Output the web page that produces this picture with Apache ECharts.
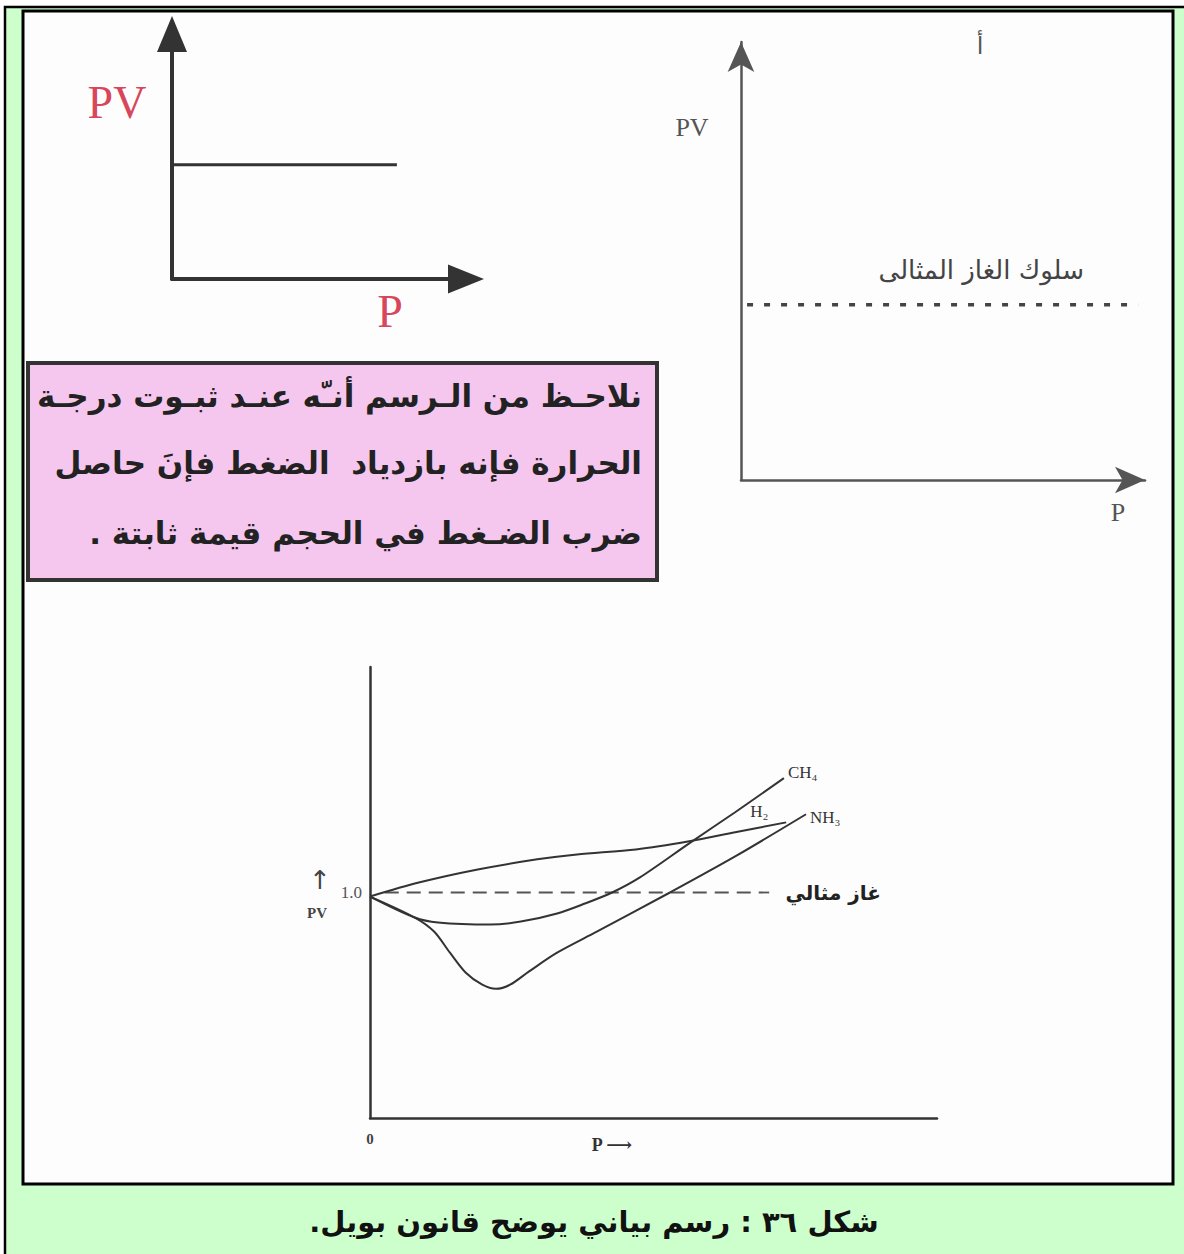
<!DOCTYPE html>
<html lang="ar">
<head>
<meta charset="utf-8">
<title>قانون بويل</title>
<script src="https://cdn.jsdelivr.net/npm/echarts@6/dist/echarts.min.js"></script>
<style>
  html, body { margin: 0; padding: 0; background: #ffffff; }
  #chart { width: 1184px; height: 1254px; }
</style>
</head>
<body>
<div id="chart"></div>
<script>
// Sketch 1: PV stays constant as P grows (arbitrary units)
const sketchP = [0, 7.65];
const sketchPV = [4.66, 4.66];

// Sketch 2: ideal gas behaviour (dotted level)
const idealP = [0.15, 9.83];
const idealPV = [4, 4];

// Real gases: PV against P, with the ideal reference at PV = 1.0
const refP = [26, 704];
const refPV = [1.0, 1.0];

const h2P  = [0, 86, 190, 295, 365, 469, 563, 644, 734];
const h2PV = [0.982, 1.044, 1.102, 1.147, 1.169, 1.191, 1.227, 1.267, 1.311];

const ch4P  = [0, 79, 120, 212, 266, 330, 379, 427, 476, 563, 644, 730];
const ch4PV = [0.982, 0.889, 0.867, 0.858, 0.871, 0.907, 0.951, 1.0, 1.067, 1.218, 1.356, 1.507];

const nh3P  = [0, 79, 113, 141, 169, 198, 222, 247, 280, 330, 400, 529, 644, 769];
const nh3PV = [0.982, 0.889, 0.827, 0.733, 0.644, 0.591, 0.573, 0.591, 0.649, 0.733, 0.826, 1.0, 1.160, 1.347];

const gasNames = ['CH₄', 'H₂', 'NH₃'];

// Text content
const boxLines = [
  'نلاحـظ من الـرسم أنـّه عنـد ثبـوت درجـة',
  'الحرارة فإنه بازدياد  الضغط فإنَ حاصل',
  'ضرب الضـغط في الحجم قيمة ثابتة .\u200F'
];
const idealLabel = 'سلوك الغاز المثالى';
const idealGasLabel = 'غاز مثالي';
const caption = '\u200Fشكل ٣٦ : رسم بياني يوضح قانون بويل.\u200F';

const zip = (xs, ys) => xs.map((x, i) => [x, ys[i]]);

const SERIF = '"Liberation Serif", "DejaVu Serif", serif';
const ARABIC = '"DejaVu Sans", "Noto Sans", sans-serif';
const INK = '#333333';

const chart = echarts.init(document.getElementById('chart'), null, { renderer: 'svg' });

const hiddenAxisBits = {
  axisTick: { show: false },
  axisLabel: { show: false },
  splitLine: { show: false }
};

const gasLine = {
  type: 'line', xAxisIndex: 2, yAxisIndex: 2,
  showSymbol: false, smooth: 0.3,
  lineStyle: { color: INK, width: 2 }
};

const option = {
  animation: false,
  backgroundColor: '#ffffff',
  grid: [
    { left: 172, top: 34, width: 294, height: 245 },
    { left: 741, top: 42, width: 404, height: 438 },
    { left: 370, top: 667, width: 567, height: 451 }
  ],
  xAxis: [
    {
      gridIndex: 0, type: 'value', min: 0, max: 10,
      axisLine: { show: true, onZero: false, symbol: ['none', 'triangle'], symbolSize: [29, 36],
                  lineStyle: { color: INK, width: 4 } },
      ...hiddenAxisBits
    },
    {
      gridIndex: 1, type: 'value', min: 0, max: 10,
      axisLine: { show: true, onZero: false, symbol: ['none', 'arrow'], symbolSize: [20, 30],
                  lineStyle: { color: '#555555', width: 2.5 } },
      ...hiddenAxisBits
    },
    {
      gridIndex: 2, type: 'value', min: 0, max: 1000, interval: 1000,
      axisLine: { show: true, onZero: false, lineStyle: { color: INK, width: 2.5 } },
      axisTick: { show: false },
      splitLine: { show: false },
      axisLabel: {
        show: true, margin: 13, color: '#444',
        fontFamily: SERIF, fontWeight: 'bold', fontSize: 15,
        formatter: v => (v === 0 ? '0' : '')
      }
    }
  ],
  yAxis: [
    {
      gridIndex: 0, type: 'value', min: 0, max: 10,
      axisLine: { show: true, onZero: false, symbol: ['none', 'triangle'], symbolSize: [30, 36],
                  lineStyle: { color: INK, width: 4 } },
      ...hiddenAxisBits
    },
    {
      gridIndex: 1, type: 'value', min: 0, max: 10,
      axisLine: { show: true, onZero: false, symbol: ['none', 'arrow'], symbolSize: [20, 30],
                  lineStyle: { color: '#555555', width: 2.5 } },
      ...hiddenAxisBits
    },
    {
      gridIndex: 2, type: 'value', min: 0, max: 2, interval: 1,
      axisLine: { show: true, onZero: false, lineStyle: { color: INK, width: 2.5 } },
      axisTick: { show: false },
      splitLine: { show: false },
      axisLabel: {
        show: true, margin: 8, color: '#555',
        fontFamily: SERIF, fontSize: 17, padding: [0, 0, 10, 0],
        formatter: v => (v === 1 ? '1.0' : '')
      }
    }
  ],
  series: [
    {
      name: 'PV ثابت', type: 'line', xAxisIndex: 0, yAxisIndex: 0,
      data: zip(sketchP, sketchPV), showSymbol: false,
      lineStyle: { color: INK, width: 3 }
    },
    {
      name: idealLabel, type: 'line', xAxisIndex: 1, yAxisIndex: 1,
      data: zip(idealP, idealPV), showSymbol: false,
      lineStyle: { color: '#444444', width: 3.5, type: [6, 11] }
    },
    {
      name: idealGasLabel, type: 'line', xAxisIndex: 2, yAxisIndex: 2,
      data: zip(refP, refPV), showSymbol: false,
      lineStyle: { color: '#555555', width: 1.8, type: [14, 8] }
    },
    {
      ...gasLine, name: gasNames[0], data: zip(ch4P, ch4PV),
      endLabel: { show: true, formatter: gasNames[0], distance: 4, offset: [0, -6],
                  fontFamily: SERIF, fontSize: 17, color: INK }
    },
    {
      ...gasLine, name: gasNames[1], data: zip(h2P, h2PV),
      endLabel: { show: true, formatter: gasNames[1], distance: 0, offset: [-36, -11],
                  fontFamily: SERIF, fontSize: 17, color: INK }
    },
    {
      ...gasLine, name: gasNames[2], data: zip(nh3P, nh3PV),
      endLabel: { show: true, formatter: gasNames[2], distance: 4, offset: [0, 3],
                  fontFamily: SERIF, fontSize: 17, color: INK }
    }
  ],
  graphic: {
    elements: [
      // outer green frame
      { type: 'rect', z: -100, silent: true,
        shape: { x: 5, y: 7, width: 1200, height: 1270 },
        style: { fill: '#ccffcc', stroke: '#000000', lineWidth: 2.5 } },
      // white figure panel
      { type: 'rect', z: -99, silent: true,
        shape: { x: 23, y: 11, width: 1150, height: 1173 },
        style: { fill: '#fdfdfd', stroke: '#000000', lineWidth: 3 } },
      // pink note box
      { type: 'rect', z: -98, silent: true,
        shape: { x: 28, y: 363, width: 629, height: 217 },
        style: { fill: '#f5c7ef', stroke: '#333333', lineWidth: 4 } },
      ...boxLines.map((t, i) => ({
        type: 'text', z: 5, silent: true,
        style: { text: t, x: 642, y: [396, 463, 533][i], align: 'right', verticalAlign: 'middle',
                 font: 'bold 31px ' + ARABIC, fill: '#222222' }
      })),
      // labels of the first sketch
      { type: 'text', z: 5, style: { text: 'PV', x: 117, y: 102, align: 'center', verticalAlign: 'middle',
          font: '46px ' + SERIF, fill: '#d8465c' } },
      { type: 'text', z: 5, style: { text: 'P', x: 390, y: 311, align: 'center', verticalAlign: 'middle',
          font: '46px ' + SERIF, fill: '#d8465c' } },
      // labels of the second sketch
      { type: 'text', z: 5, style: { text: 'PV', x: 692, y: 127, align: 'center', verticalAlign: 'middle',
          font: '26px ' + SERIF, fill: '#555555' } },
      { type: 'text', z: 5, style: { text: 'P', x: 1118, y: 512, align: 'center', verticalAlign: 'middle',
          font: '26px ' + SERIF, fill: '#555555' } },
      { type: 'text', z: 5, style: { text: 'أ', x: 980, y: 46, align: 'center', verticalAlign: 'middle',
          font: '24px ' + ARABIC, fill: '#555555' } },
      { type: 'text', z: 5, style: { text: idealLabel, x: 1084, y: 270, align: 'right', verticalAlign: 'middle',
          font: '26px ' + ARABIC, fill: '#444444' } },
      // labels of the real-gas plot
      { type: 'text', z: 5, style: { text: idealGasLabel, x: 881, y: 893, align: 'right', verticalAlign: 'middle',
          font: 'bold 20px ' + ARABIC, fill: '#222222' } },
      { type: 'text', z: 5, style: { text: '↑', x: 320, y: 880, align: 'center', verticalAlign: 'middle',
          font: '26px "DejaVu Sans"', fill: '#444444' } },
      { type: 'text', z: 5, style: { text: 'PV', x: 317, y: 913, align: 'center', verticalAlign: 'middle',
          font: 'bold 15px ' + SERIF, fill: '#444444' } },
      { type: 'text', z: 5, style: { text: 'P ⟶', x: 612, y: 1145, align: 'center', verticalAlign: 'middle',
          font: 'bold 18px ' + SERIF, fill: '#333333' } },
      // caption
      { type: 'text', z: 5, style: { text: caption, x: 594, y: 1222, align: 'center', verticalAlign: 'middle',
          font: 'bold 29px ' + ARABIC, fill: '#111111' } }
    ]
  }
};

chart.setOption(option);
</script>
</body>
</html>
